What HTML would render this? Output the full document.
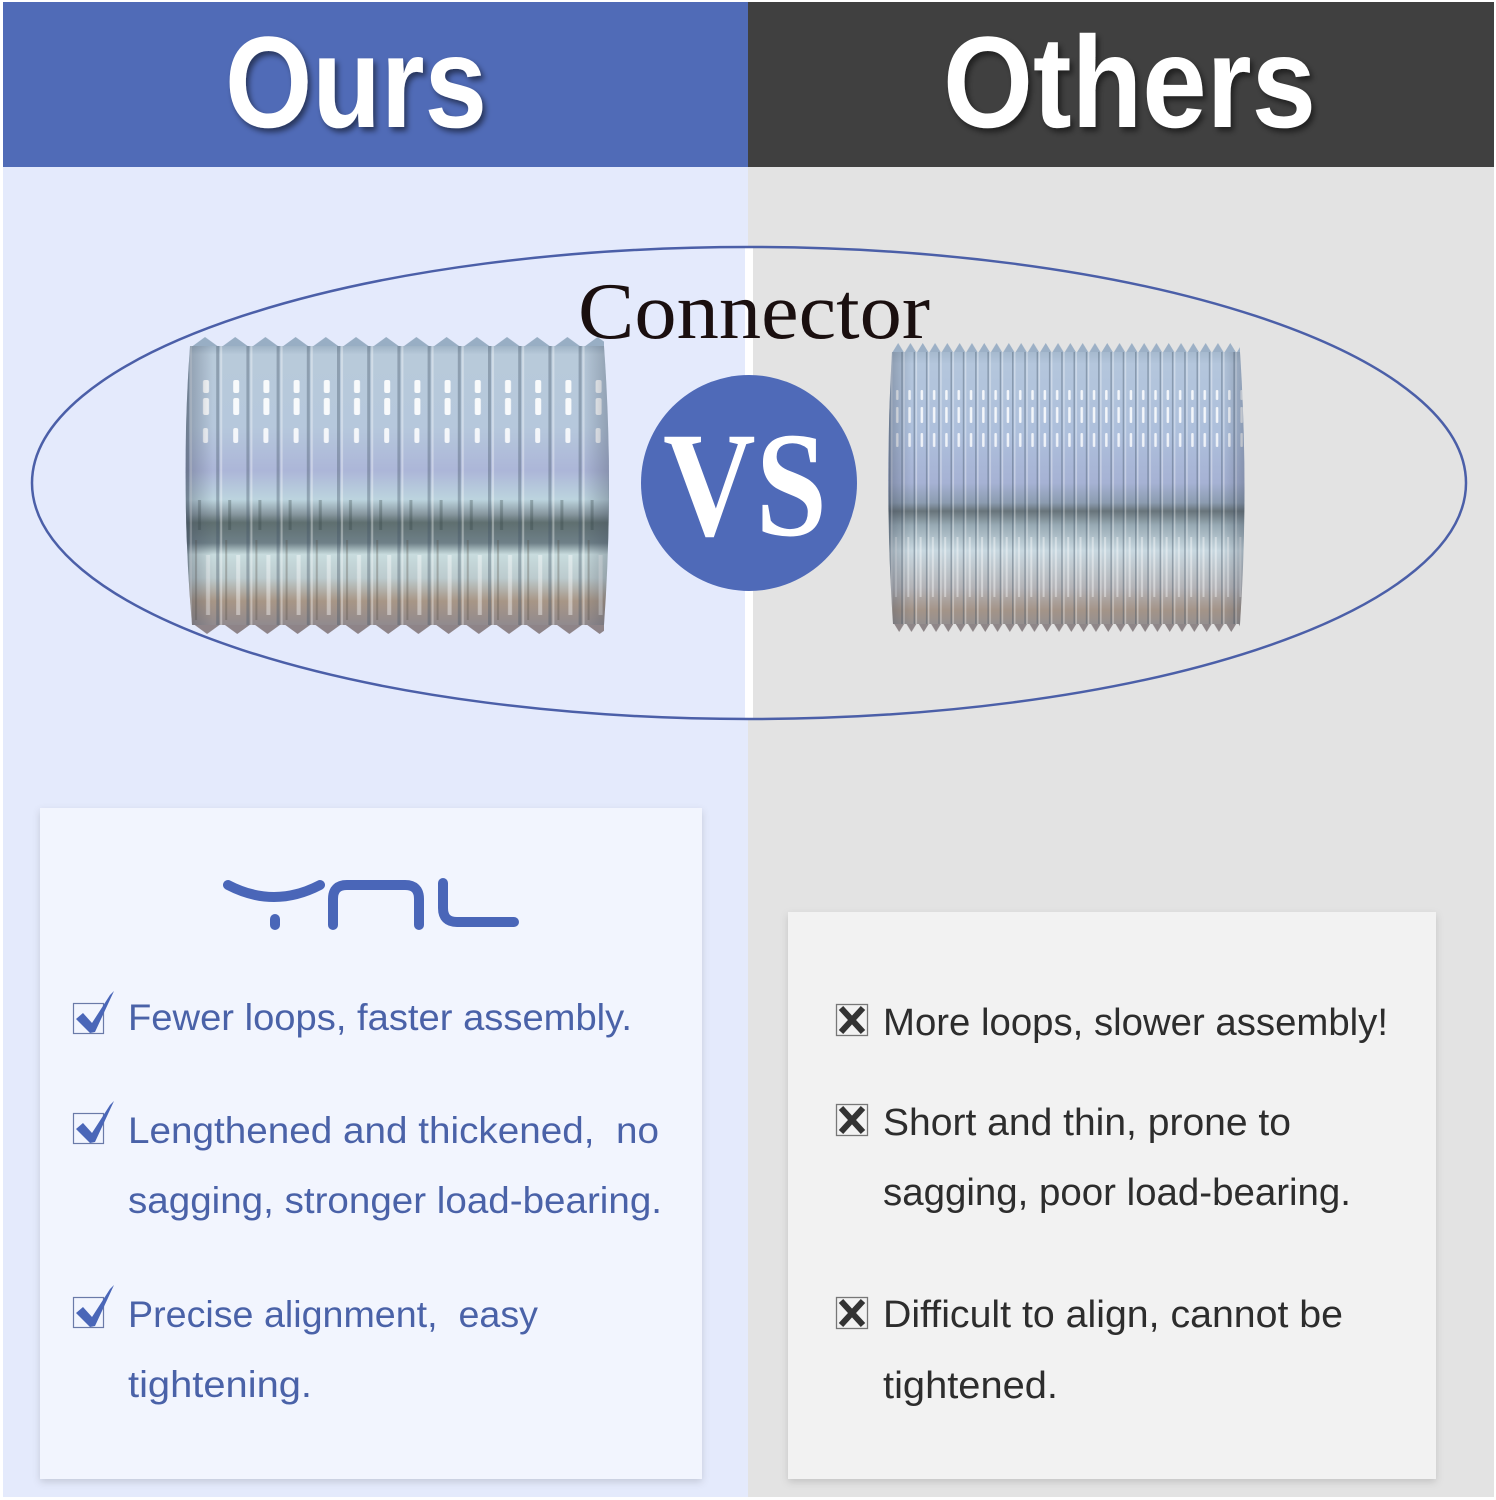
<!DOCTYPE html>
<html>
<head>
<meta charset="utf-8">
<style>
  html,body{margin:0;padding:0;background:#fff;}
  svg{display:block;}
</style>
</head>
<body>
<svg width="1496" height="1500" viewBox="0 0 1496 1500" xmlns="http://www.w3.org/2000/svg">
  <defs>
    <filter id="ts" x="-10%" y="-20%" width="130%" height="150%">
      <feDropShadow dx="3" dy="4" stdDeviation="3" flood-color="#000" flood-opacity="0.5"/>
    </filter>
    <filter id="ps" x="-5%" y="-5%" width="110%" height="110%">
      <feDropShadow dx="0" dy="3" stdDeviation="4" flood-color="#000" flood-opacity="0.14"/>
    </filter>

    <!-- left cylinder -->
    <linearGradient id="gL" gradientUnits="userSpaceOnUse" x1="0" y1="340" x2="0" y2="630">
      <stop offset="0" stop-color="#8fa4b8"/>
      <stop offset="0.05" stop-color="#b8cada"/>
      <stop offset="0.30" stop-color="#b6c8dc"/>
      <stop offset="0.45" stop-color="#acb6d8"/>
      <stop offset="0.55" stop-color="#bcd4de"/>
      <stop offset="0.60" stop-color="#8898a0"/>
      <stop offset="0.63" stop-color="#5f6f70"/>
      <stop offset="0.70" stop-color="#6e8088"/>
      <stop offset="0.74" stop-color="#c8dcde"/>
      <stop offset="0.82" stop-color="#bccbce"/>
      <stop offset="0.90" stop-color="#a89686"/>
      <stop offset="1" stop-color="#8c8890"/>
    </linearGradient>
    <linearGradient id="eL" gradientUnits="userSpaceOnUse" x1="183" y1="0" x2="612" y2="0">
      <stop offset="0" stop-color="#3c4658" stop-opacity="0.4"/>
      <stop offset="0.07" stop-color="#3c4658" stop-opacity="0"/>
      <stop offset="0.93" stop-color="#3c4658" stop-opacity="0"/>
      <stop offset="1" stop-color="#3c4658" stop-opacity="0.35"/>
    </linearGradient>
    <pattern id="pL" patternUnits="userSpaceOnUse" x="186" y="340" width="30.2" height="290">
      <rect x="0" y="0" width="3" height="290" fill="#3f5060" opacity="0.35"/>
      <rect x="4" y="0" width="2" height="290" fill="#ffffff" opacity="0.35"/>
      <rect x="17" y="40" width="6" height="13" rx="2" fill="#ffffff" opacity="0.9"/>
      <rect x="17" y="58" width="6" height="17" rx="2" fill="#ffffff" opacity="0.9"/>
      <rect x="17" y="88" width="5" height="15" rx="2" fill="#ffffff" opacity="0.85"/>
      <rect x="12" y="160" width="3" height="30" fill="#304040" opacity="0.3"/>
      <rect x="20" y="215" width="4" height="60" fill="#ffffff" opacity="0.4"/>
      <rect x="9" y="200" width="2" height="80" fill="#504840" opacity="0.3"/>
    </pattern>
    <pattern id="tLt" patternUnits="userSpaceOnUse" x="190" y="337" width="30.2" height="11">
      <polygon points="0,11 15,0 30.2,11" fill="#98aec4"/>
    </pattern>
    <pattern id="tLb" patternUnits="userSpaceOnUse" x="192" y="623" width="30.2" height="11">
      <polygon points="0,0 15,11 30.2,0" fill="#8e8488"/>
    </pattern>
    <clipPath id="cL"><path d="M190,346 L604,346 Q614,485 604,625 L192,625 Q180,485 190,346 Z"/></clipPath>

    <!-- right cylinder -->
    <linearGradient id="gR" gradientUnits="userSpaceOnUse" x1="0" y1="347" x2="0" y2="630">
      <stop offset="0" stop-color="#a0b4c8"/>
      <stop offset="0.06" stop-color="#b4c6dc"/>
      <stop offset="0.30" stop-color="#aec0dc"/>
      <stop offset="0.48" stop-color="#a6b2d4"/>
      <stop offset="0.55" stop-color="#8c9cb0"/>
      <stop offset="0.58" stop-color="#68747a"/>
      <stop offset="0.63" stop-color="#98aab4"/>
      <stop offset="0.72" stop-color="#c8d8e0"/>
      <stop offset="0.85" stop-color="#b4b4b8"/>
      <stop offset="0.93" stop-color="#a49488"/>
      <stop offset="1" stop-color="#8e8e92"/>
    </linearGradient>
    <linearGradient id="eR" gradientUnits="userSpaceOnUse" x1="886" y1="0" x2="1247" y2="0">
      <stop offset="0" stop-color="#3c4658" stop-opacity="0.4"/>
      <stop offset="0.07" stop-color="#3c4658" stop-opacity="0"/>
      <stop offset="0.93" stop-color="#3c4658" stop-opacity="0"/>
      <stop offset="1" stop-color="#3c4658" stop-opacity="0.35"/>
    </linearGradient>
    <pattern id="pR" patternUnits="userSpaceOnUse" x="889" y="347" width="12.3" height="283">
      <rect x="0" y="0" width="1.5" height="283" fill="#3a4a5c" opacity="0.35"/>
      <rect x="2" y="0" width="1.5" height="283" fill="#ffffff" opacity="0.35"/>
      <rect x="7" y="43" width="2.5" height="10" rx="1" fill="#ffffff" opacity="0.85"/>
      <rect x="7" y="60" width="2.5" height="16" rx="1" fill="#ffffff" opacity="0.85"/>
      <rect x="7" y="86" width="2.5" height="14" rx="1" fill="#ffffff" opacity="0.8"/>
      <rect x="6" y="190" width="2" height="60" fill="#ffffff" opacity="0.4"/>
    </pattern>
    <pattern id="tRt" patternUnits="userSpaceOnUse" x="892" y="343" width="12.3" height="10">
      <polygon points="0,10 6.15,0 12.3,10" fill="#9cb0c6"/>
    </pattern>
    <pattern id="tRb" patternUnits="userSpaceOnUse" x="893" y="622" width="12.3" height="10">
      <polygon points="0,0 6.15,10 12.3,0" fill="#8e8688"/>
    </pattern>
    <clipPath id="cR"><path d="M892,352 L1240,352 Q1249,490 1240,624 L893,624 Q884,490 892,352 Z"/></clipPath>
  </defs>

  <!-- background -->
  <rect x="0" y="0" width="1496" height="1500" fill="#ffffff"/>
  <rect x="3" y="167" width="745" height="1330" fill="#e4eafc"/>
  <rect x="748" y="167" width="746" height="1330" fill="#e3e3e3"/>

  <!-- header -->
  <rect x="3" y="2" width="745" height="165" fill="#506bb7"/>
  <rect x="748" y="2" width="746" height="165" fill="#404040"/>
  <text x="225" y="127" font-family="Liberation Sans, sans-serif" font-weight="bold" font-size="130" fill="#ffffff" textLength="262" lengthAdjust="spacingAndGlyphs" filter="url(#ts)">Ours</text>
  <text x="943" y="127" font-family="Liberation Sans, sans-serif" font-weight="bold" font-size="130" fill="#ffffff" textLength="373" lengthAdjust="spacingAndGlyphs" filter="url(#ts)">Others</text>

  <!-- center strip and ellipse -->
  <rect x="745" y="248" width="8" height="470" fill="#ffffff"/>
  <ellipse cx="749" cy="483" rx="717" ry="236" fill="none" stroke="#4b5fa8" stroke-width="2.5"/>

  <text x="578" y="338" font-family="Liberation Serif, serif" font-size="80" fill="#1a0f0f" textLength="352" lengthAdjust="spacingAndGlyphs">Connector</text>

  <!-- left cylinder -->
  <rect x="190" y="337" width="414" height="11" fill="url(#tLt)"/>
  <rect x="192" y="623" width="412" height="11" fill="url(#tLb)"/>
  <g clip-path="url(#cL)">
    <rect x="180" y="340" width="436" height="290" fill="url(#gL)"/>
    <rect x="180" y="340" width="436" height="290" fill="url(#pL)"/>
    <rect x="180" y="340" width="436" height="290" fill="url(#eL)"/>
  </g>

  <!-- right cylinder -->
  <rect x="892" y="343" width="348" height="10" fill="url(#tRt)"/>
  <rect x="893" y="622" width="347" height="10" fill="url(#tRb)"/>
  <g clip-path="url(#cR)">
    <rect x="882" y="347" width="370" height="283" fill="url(#gR)"/>
    <rect x="882" y="347" width="370" height="283" fill="url(#pR)"/>
    <rect x="882" y="347" width="370" height="283" fill="url(#eR)"/>
  </g>

  <!-- VS -->
  <circle cx="749" cy="483" r="108" fill="#4f6ab8"/>
  <text x="663" y="535" font-family="Liberation Serif, serif" font-weight="bold" font-size="150" fill="#ffffff" textLength="164" lengthAdjust="spacingAndGlyphs">VS</text>

  <!-- panels -->
  <rect x="40" y="808" width="662" height="671" fill="#f2f5fe" filter="url(#ps)"/>
  <rect x="788" y="912" width="648" height="567" fill="#f2f2f2" filter="url(#ps)"/>

  <!-- logo -->
  <g fill="none" stroke="#4a66b8" stroke-width="10" stroke-linecap="round" stroke-linejoin="round">
    <path d="M228,885 Q274,909 320,885"/>
    <path d="M275,919 L275,925"/>
    <path d="M333,925 L333,899 Q333,885 347,885 L405,885 Q419,885 419,899 L419,925"/>
    <path d="M443,883 L443,908 Q443,922 457,922 L514,922"/>
  </g>

  <!-- check marks -->
  <g>
    <rect x="73.5" y="1003.5" width="30" height="30" fill="none" stroke="#6a7aa8" stroke-width="1.2"/>
    <polygon points="76,1019 83,1013 92,1023 110,995 114,991 95,1032 90,1033" fill="#4a66b8"/>
    <rect x="73.5" y="1113.5" width="30" height="30" fill="none" stroke="#6a7aa8" stroke-width="1.2"/>
    <polygon points="76,1129 83,1123 92,1133 110,1105 114,1101 95,1142 90,1143" fill="#4a66b8"/>
    <rect x="73.5" y="1297.5" width="30" height="30" fill="none" stroke="#6a7aa8" stroke-width="1.2"/>
    <polygon points="76,1313 83,1307 92,1317 110,1289 114,1285 95,1326 90,1327" fill="#4a66b8"/>
  </g>

  <!-- left text -->
  <g font-family="Liberation Sans, sans-serif" font-size="37" fill="#4a62a8">
    <text x="128" y="1030" textLength="504" lengthAdjust="spacingAndGlyphs">Fewer loops, faster assembly.</text>
    <text x="128" y="1143" textLength="531" lengthAdjust="spacingAndGlyphs">Lengthened and thickened,&#160; no</text>
    <text x="128" y="1213" textLength="534" lengthAdjust="spacingAndGlyphs">sagging, stronger load-bearing.</text>
    <text x="128" y="1327" textLength="410" lengthAdjust="spacingAndGlyphs">Precise alignment,&#160; easy</text>
    <text x="128" y="1397" textLength="184" lengthAdjust="spacingAndGlyphs">tightening.</text>
  </g>

  <!-- X marks -->
  <g>
    <rect x="836.5" y="1004.5" width="31" height="31" fill="none" stroke="#777" stroke-width="1.3"/>
    <path d="M841,1008 L863,1032 M863,1008 L841,1032" stroke="#333" stroke-width="6"/>
    <rect x="836.5" y="1104.5" width="31" height="31" fill="none" stroke="#777" stroke-width="1.3"/>
    <path d="M841,1108 L863,1132 M863,1108 L841,1132" stroke="#333" stroke-width="6"/>
    <rect x="836.5" y="1297.5" width="31" height="31" fill="none" stroke="#777" stroke-width="1.3"/>
    <path d="M841,1301 L863,1325 M863,1301 L841,1325" stroke="#333" stroke-width="6"/>
  </g>

  <!-- right text -->
  <g font-family="Liberation Sans, sans-serif" font-size="38" fill="#2d2d2d">
    <text x="883" y="1035" textLength="505" lengthAdjust="spacingAndGlyphs">More loops, slower assembly!</text>
    <text x="883" y="1135" textLength="408" lengthAdjust="spacingAndGlyphs">Short and thin, prone to</text>
    <text x="883" y="1205" textLength="468" lengthAdjust="spacingAndGlyphs">sagging, poor load-bearing.</text>
    <text x="883" y="1327" textLength="460" lengthAdjust="spacingAndGlyphs">Difficult to align, cannot be</text>
    <text x="883" y="1398" textLength="175" lengthAdjust="spacingAndGlyphs">tightened.</text>
  </g>
</svg>
</body>
</html>
